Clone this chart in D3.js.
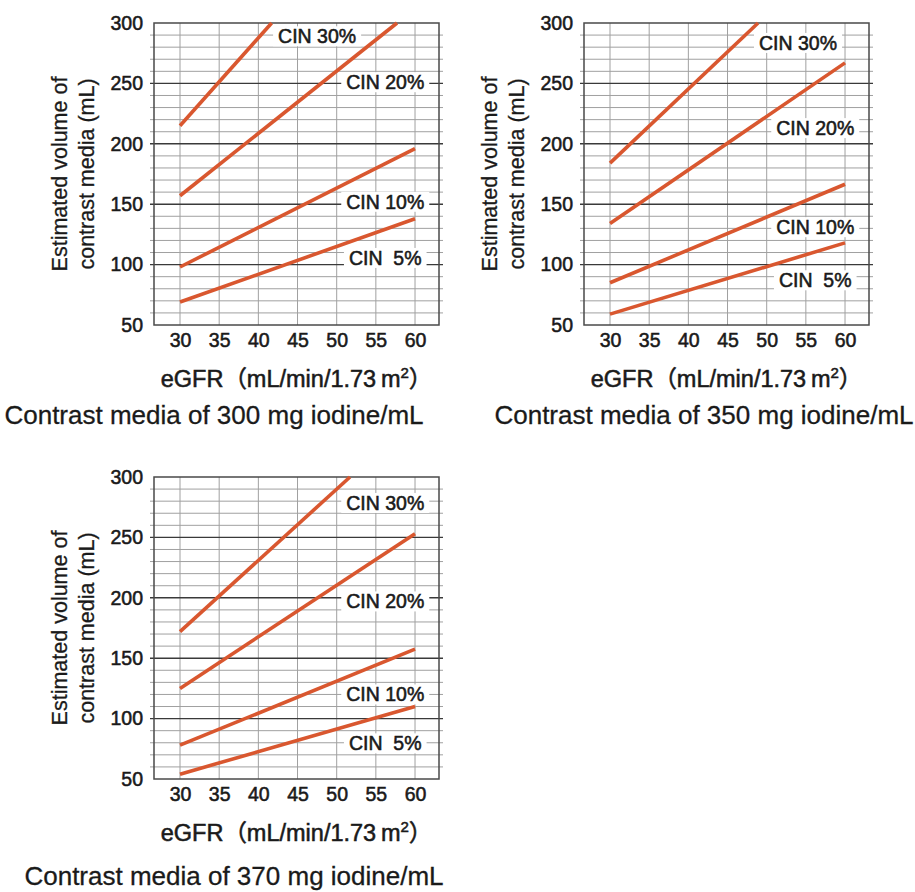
<!DOCTYPE html>
<html>
<head>
<meta charset="utf-8">
<script src="https://cdn.jsdelivr.net/npm/d3@7"></script>
<style>
  html, body { margin: 0; padding: 0; background: #fff; }
  svg { display: block; }
  text { font-family: "Liberation Sans", Arial, "Noto Sans CJK JP", sans-serif; fill: #1a1a1a; }
  .heavy { stroke: #1a1a1a; stroke-width: 0.55px; }
  .mid { stroke: #1a1a1a; stroke-width: 0.3px; }
</style>
</head>
<body>
<svg id="chart" width="915" height="892"></svg>
<script>
// ---- data ----
const eGFRTicks = [30, 35, 40, 45, 50, 55, 60];
const volumeTicks = [50, 100, 150, 200, 250, 300];
const minorVolumeTicks = [60, 70, 80, 90, 110, 120, 130, 140, 160, 170, 180, 190, 210, 220, 230, 240, 260, 270, 280, 290];
const cinLabels = ["CIN 30%", "CIN 20%", "CIN 10%", "CIN  5%"];
const panelTitles = [
  "Contrast media of 300 mg iodine/mL",
  "Contrast media of 350 mg iodine/mL",
  "Contrast media of 370 mg iodine/mL"
];
// each line: [eGFR start, volume start, eGFR end, volume end]
const lines300 = [[30, 215, 41.7, 300], [30, 157, 57.7, 300], [30, 98, 60, 196], [30, 69, 60, 138]];
const lines350 = [[30, 184, 48.9, 300], [30, 134, 60, 267], [30, 85, 60, 166.5], [30, 59, 60, 118]];
const lines370 = [[30, 172, 51.7, 300], [30, 125, 60, 253], [30, 78, 60, 157.5], [30, 54, 60, 110]];
// label centres: [eGFR, volume]
const labels300 = [[47.5, 289], [56.2, 251], [56.2, 152], [56.2, 105.5]];
const labels350 = [[54, 283.5], [56.2, 213], [56.2, 131], [56.2, 87]];
const labels370 = [[56.2, 278.5], [56.2, 197], [56.2, 120], [56.2, 79.5]];

// ---- layout ----
const plotW = 285, plotH = 302;
const panels = [
  { left: 154, top: 23, lines: lines300, labels: labels300, title: panelTitles[0], titleX: 214, titleY: 424 },
  { left: 584, top: 23, lines: lines350, labels: labels350, title: panelTitles[1], titleX: 704, titleY: 424 },
  { left: 154, top: 477, lines: lines370, labels: labels370, title: panelTitles[2], titleX: 234, titleY: 885 }
];
const orange = "#d9572f";

const svg = d3.select("#chart");

panels.forEach(p => {
  const g = svg.append("g").attr("transform", `translate(${p.left},${p.top})`);
  const x = d3.scaleLinear().domain([26.68, 63.06]).range([0, plotW]);
  const y = d3.scaleLinear().domain([50, 300]).range([plotH, 0]);

  // minor horizontal grid
  g.append("g").selectAll("line").data(minorVolumeTicks).join("line")
    .attr("x1", -4).attr("x2", plotW + 4)
    .attr("y1", d => y(d)).attr("y2", d => y(d))
    .attr("stroke", "#a0a0a0").attr("stroke-width", 1);

  // vertical grid
  g.append("g").selectAll("line").data(eGFRTicks).join("line")
    .attr("x1", d => x(d)).attr("x2", d => x(d))
    .attr("y1", 0).attr("y2", plotH)
    .attr("stroke", "#a0a0a0").attr("stroke-width", 1);

  // major horizontal grid
  g.append("g").selectAll("line").data(volumeTicks.slice(1, -1)).join("line")
    .attr("x1", -4).attr("x2", plotW + 4)
    .attr("y1", d => y(d)).attr("y2", d => y(d))
    .attr("stroke", "#3a3a3a").attr("stroke-width", 1.4);

  // frame
  g.append("rect").attr("x", 0).attr("y", 0).attr("width", plotW).attr("height", plotH)
    .attr("fill", "none").attr("stroke", "#4a4a4a").attr("stroke-width", 1.5);

  // y tick labels
  const yAxis = d3.axisLeft(y).tickValues(volumeTicks).tickSize(0).tickPadding(11);
  const ya = g.append("g").call(yAxis);
  ya.select(".domain").remove();
  ya.selectAll("text").attr("font-size", 19.5).attr("fill", "#1a1a1a").attr("class", "heavy")
    .style("font-family", '"Liberation Sans", Arial, sans-serif');

  // x tick labels
  const xAxis = d3.axisBottom(x).tickValues(eGFRTicks).tickSize(0).tickPadding(8);
  const xa = g.append("g").attr("transform", `translate(0,${plotH})`).call(xAxis);
  xa.select(".domain").remove();
  xa.selectAll("text").attr("font-size", 19.5).attr("fill", "#1a1a1a").attr("class", "heavy")
    .style("font-family", '"Liberation Sans", Arial, sans-serif');

  // CIN labels with white boxes
  const lab = g.append("g").selectAll("g").data(p.labels).join("g");
  const texts = lab.append("text")
    .attr("class", "heavy")
    .attr("x", d => x(d[0])).attr("y", d => y(d[1]) + 7)
    .attr("text-anchor", "middle").attr("font-size", 19.5)
    .attr("xml:space", "preserve").style("white-space", "pre")
    .text((d, i) => cinLabels[i]);
  texts.each(function () {
    const bb = this.getBBox();
    d3.select(this.parentNode).insert("rect", "text")
      .attr("x", bb.x - 5).attr("y", bb.y + 1)
      .attr("width", bb.width + 10).attr("height", bb.height - 2)
      .attr("fill", "#fff");
  });

  // CIN lines
  g.append("g").selectAll("line").data(p.lines).join("line")
    .attr("x1", d => x(d[0])).attr("y1", d => y(d[1]))
    .attr("x2", d => x(d[2])).attr("y2", d => y(d[3]))
    .attr("stroke", orange).attr("stroke-width", 3.6);

  // y axis title
  const yt = g.append("text")
    .attr("class", "mid")
    .attr("transform", `translate(${-87},${plotH / 2}) rotate(-90)`)
    .attr("text-anchor", "middle").attr("font-size", 21.5);
  yt.append("tspan").attr("x", 0).attr("dy", 0).text("Estimated volume of");
  yt.append("tspan").attr("x", 0).attr("dy", 27).text("contrast media (mL)");

  // x axis title
  const xt = g.append("text")
    .attr("class", "heavy")
    .attr("x", plotW / 2).attr("y", plotH + 62)
    .attr("text-anchor", "middle").attr("font-size", 23.5);
  xt.append("tspan").text("eGFR");
  xt.append("tspan").text("（mL/min/1.73\u2009m");
  xt.append("tspan").attr("font-size", 15).attr("dy", -9).text("2");
  xt.append("tspan").attr("dy", 9).text("）");

  // panel caption
  svg.append("text").attr("class", "mid").attr("x", p.titleX).attr("y", p.titleY)
    .attr("text-anchor", "middle").attr("font-size", 26).text(p.title);
});
</script>
</body>
</html>
